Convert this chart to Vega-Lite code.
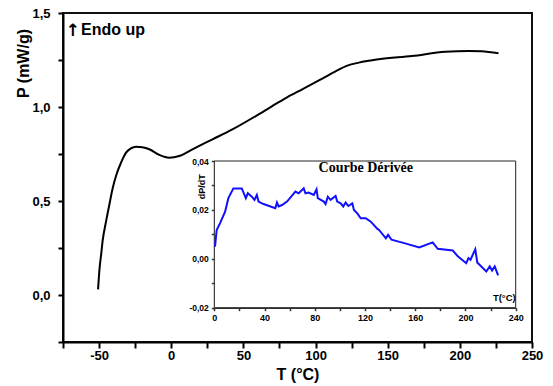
{
  "$schema": "https://vega.github.io/schema/vega-lite/v6.json",
  "width": 469,
  "height": 329,
  "autosize": {"type": "none"},
  "padding": {"left": 63, "top": 13, "right": 21, "bottom": 44},
  "background": "white",
  "config": {"view": {"stroke": "#111", "strokeWidth": 2}, "font": "Liberation Sans"},
  "datasets": {
    "dsc": [
      {"T": -50.7, "P": 0.03}, {"T": -49.8, "P": 0.13}, {"T": -48.5, "P": 0.22}, {"T": -47.5, "P": 0.29},
      {"T": -45.2, "P": 0.39}, {"T": -42.9, "P": 0.48}, {"T": -40.5, "P": 0.57}, {"T": -38, "P": 0.64},
      {"T": -35, "P": 0.70}, {"T": -31.3, "P": 0.757}, {"T": -28, "P": 0.78}, {"T": -24.4, "P": 0.789},
      {"T": -20, "P": 0.786}, {"T": -15.2, "P": 0.775}, {"T": -8.3, "P": 0.745}, {"T": -1.4, "P": 0.73},
      {"T": 5.5, "P": 0.739}, {"T": 14.7, "P": 0.775}, {"T": 28.6, "P": 0.828}, {"T": 42.4, "P": 0.881},
      {"T": 58.6, "P": 0.952}, {"T": 70, "P": 1.005}, {"T": 80, "P": 1.05}, {"T": 90.8, "P": 1.094},
      {"T": 102, "P": 1.14}, {"T": 113.9, "P": 1.19}, {"T": 122, "P": 1.22}, {"T": 130, "P": 1.236},
      {"T": 143.8, "P": 1.254}, {"T": 166.8, "P": 1.271}, {"T": 190, "P": 1.294}, {"T": 206, "P": 1.298},
      {"T": 215, "P": 1.296}, {"T": 226.8, "P": 1.286}
    ],
    "deriv": [
      {"T": 0.56, "D": 0.005}, {"T": 1.9, "D": 0.0118}, {"T": 4.6, "D": 0.0146}, {"T": 8.6, "D": 0.0193},
      {"T": 11.2, "D": 0.0248}, {"T": 15.2, "D": 0.0288}, {"T": 21.9, "D": 0.0288}, {"T": 25.1, "D": 0.0248},
      {"T": 26.7, "D": 0.0268}, {"T": 29.9, "D": 0.0254}, {"T": 32.0, "D": 0.0241}, {"T": 33.9, "D": 0.0261},
      {"T": 35.2, "D": 0.0234}, {"T": 39.2, "D": 0.0224}, {"T": 48.6, "D": 0.0207}, {"T": 49.9, "D": 0.023},
      {"T": 51.2, "D": 0.0214}, {"T": 53.9, "D": 0.022}, {"T": 57.9, "D": 0.0234}, {"T": 64.6, "D": 0.0275},
      {"T": 67.2, "D": 0.0268}, {"T": 71.2, "D": 0.0288}, {"T": 72.6, "D": 0.0268}, {"T": 75.2, "D": 0.0271},
      {"T": 79.2, "D": 0.0261}, {"T": 81.4, "D": 0.0284}, {"T": 82.4, "D": 0.0248}, {"T": 87.2, "D": 0.0234},
      {"T": 88.6, "D": 0.0224}, {"T": 90.4, "D": 0.0254}, {"T": 92.6, "D": 0.0241}, {"T": 96.6, "D": 0.0257},
      {"T": 97.9, "D": 0.0234}, {"T": 100.6, "D": 0.0227}, {"T": 102.7, "D": 0.0214}, {"T": 104.6, "D": 0.023},
      {"T": 106.7, "D": 0.0216}, {"T": 109.9, "D": 0.0227}, {"T": 111.2, "D": 0.02}, {"T": 113.9, "D": 0.0186},
      {"T": 116.6, "D": 0.0166}, {"T": 120.6, "D": 0.0166}, {"T": 124.6, "D": 0.0152}, {"T": 129.9, "D": 0.0122},
      {"T": 131.2, "D": 0.0118}, {"T": 136.6, "D": 0.0084}, {"T": 138.4, "D": 0.0098}, {"T": 141.1, "D": 0.0078},
      {"T": 151.2, "D": 0.0064}, {"T": 163.2, "D": 0.0046}, {"T": 173.9, "D": 0.0067}, {"T": 177.9, "D": 0.0041},
      {"T": 189.9, "D": 0.0034}, {"T": 193.9, "D": 0.001}, {"T": 200.6, "D": -0.0018}, {"T": 202.4, "D": 0.0003},
      {"T": 204.0, "D": -0.0004}, {"T": 207.8, "D": 0.0039}, {"T": 209.4, "D": -0.0015}, {"T": 216.6, "D": -0.0052},
      {"T": 219.3, "D": -0.0031}, {"T": 221.2, "D": -0.0048}, {"T": 223.3, "D": -0.0031}, {"T": 226.0, "D": -0.0068}
    ]
  },
  "layer": [
    {
      "data": {"name": "dsc"},
      "mark": {"type": "line", "color": "black", "strokeWidth": 2, "interpolate": "monotone"},
      "encoding": {
        "x": {
          "field": "T", "type": "quantitative",
          "scale": {"domain": [-75, 250], "nice": false, "zero": false},
          "axis": {
            "orient": "bottom", "title": "T (°C)", "values": [-75, -50, -25, 0, 25, 50, 75, 100, 125, 150, 175, 200, 225, 250],
            "labelExpr": "datum.value % 50 == 0 ? replace(format(datum.value, 'd'), '−', '-') : ''",
            "labelOverlap": false, "labelFlush": false,
            "grid": false, "domainColor": "black", "domainWidth": 2, "tickColor": "black", "tickWidth": 2, "tickSize": 6,
            "labelFont": "Liberation Sans", "labelFontSize": 13, "labelFontWeight": "bold", "labelColor": "black", "labelPadding": 1,
            "titleFont": "Liberation Sans", "titleFontSize": 16, "titleFontWeight": "bold", "titleColor": "black", "titlePadding": 4
          }
        },
        "y": {
          "field": "P", "type": "quantitative",
          "scale": {"domain": [-0.25, 1.5], "nice": false, "zero": false},
          "axis": {
            "orient": "left", "title": "P (mW/g)", "values": [-0.25, 0, 0.25, 0.5, 0.75, 1, 1.25, 1.5],
            "labelExpr": "abs(datum.value * 2 - round(datum.value * 2)) < 0.001 ? replace(format(datum.value, '.1f'), '.', ',') : ''",
            "labelOverlap": false, "labelFlush": false,
            "grid": false, "domainColor": "black", "domainWidth": 2, "tickColor": "black", "tickWidth": 2, "tickSize": 5,
            "labelFont": "Liberation Sans", "labelFontSize": 13, "labelFontWeight": "bold", "labelColor": "black", "labelPadding": 8,
            "titleFont": "Liberation Sans", "titleFontSize": 16, "titleFontWeight": "bold", "titleColor": "black",
            "titleX": -40, "titleY": 50, "titleAlign": "center", "titleBaseline": "middle", "titleAngle": 270
          }
        }
      }
    },
    {
      "data": {"values": [{"label": "↑"}]},
      "mark": {"type": "text", "align": "center", "baseline": "alphabetic", "font": "DejaVu Sans", "fontSize": 17, "fontWeight": "bold", "color": "black"},
      "encoding": {
        "x": {"datum": -68.2, "type": "quantitative", "scale": {"domain": [-75, 250], "nice": false, "zero": false}, "axis": null},
        "y": {"datum": 1.38, "type": "quantitative", "scale": {"domain": [-0.25, 1.5], "nice": false, "zero": false}, "axis": null},
        "text": {"field": "label"}
      }
    },
    {
      "data": {"values": [{"label": "Endo up"}]},
      "mark": {"type": "text", "align": "left", "baseline": "alphabetic", "font": "Liberation Sans", "fontSize": 16, "fontWeight": "bold", "color": "black"},
      "encoding": {
        "x": {"datum": -62.5, "type": "quantitative", "scale": {"domain": [-75, 250], "nice": false, "zero": false}, "axis": null},
        "y": {"datum": 1.385, "type": "quantitative", "scale": {"domain": [-0.25, 1.5], "nice": false, "zero": false}, "axis": null},
        "text": {"field": "label"}
      }
    },
    {
      "data": {"values": [{"x0": 0, "x1": 240, "y0": -0.02, "y1": 0.04}]},
      "mark": {"type": "rect", "fill": "white", "stroke": "#222", "strokeWidth": 1},
      "encoding": {
        "x": {"field": "x0", "type": "quantitative", "scale": {"domain": [0, 240], "range": [151.3, 452.7], "nice": false, "zero": false}, "axis": null},
        "x2": {"field": "x1"},
        "y": {"field": "y0", "type": "quantitative", "scale": {"domain": [-0.02, 0.04], "range": [294.7, 148], "nice": false, "zero": false}, "axis": null},
        "y2": {"field": "y1"}
      }
    },
    {
      "data": {"name": "deriv"},
      "mark": {"type": "line", "color": "#1010ff", "strokeWidth": 2},
      "encoding": {
        "x": {
          "field": "T", "type": "quantitative",
          "scale": {"domain": [0, 240], "range": [151.3, 452.7], "nice": false, "zero": false},
          "axis": {
            "orient": "bottom", "offset": -34.3, "title": null,
            "values": [0, 20, 40, 60, 80, 100, 120, 140, 160, 180, 200, 220, 240],
            "labelExpr": "datum.value % 40 == 0 ? format(datum.value, 'd') : ''",
            "labelOverlap": false, "labelFlush": false,
            "grid": false, "domainColor": "#333", "domainWidth": 1.5, "tickColor": "#333", "tickWidth": 1.5, "tickSize": 3,
            "labelFont": "Liberation Sans", "labelFontSize": 9, "labelFontWeight": "bold", "labelColor": "black", "labelPadding": 3
          }
        },
        "y": {
          "field": "D", "type": "quantitative",
          "scale": {"domain": [-0.02, 0.04], "range": [294.7, 148], "nice": false, "zero": false},
          "axis": {
            "orient": "left", "offset": -151.3, "title": null,
            "values": [-0.02, -0.01, 0, 0.01, 0.02, 0.03, 0.04],
            "labelExpr": "abs(datum.value * 50 - round(datum.value * 50)) < 0.001 ? replace(replace(format(datum.value, '.2f'), '.', ','), '−', '-') : ''",
            "labelOverlap": false, "labelFlush": false,
            "grid": false, "domainColor": "#333", "domainWidth": 1.5, "tickColor": "#333", "tickWidth": 1.5, "tickSize": 3,
            "labelFont": "Liberation Sans", "labelFontSize": 8.5, "labelFontWeight": "bold", "labelColor": "black", "labelPadding": 3
          }
        }
      }
    },
    {
      "data": {"values": [{"label": "Courbe Dérivée"}]},
      "mark": {"type": "text", "align": "center", "baseline": "alphabetic", "font": "Liberation Serif", "fontSize": 14, "fontWeight": "bold", "color": "black"},
      "encoding": {
        "x": {"datum": 120.6, "type": "quantitative", "scale": {"domain": [0, 240], "range": [151.3, 452.7], "nice": false, "zero": false}, "axis": null},
        "y": {"datum": 0.0353, "type": "quantitative", "scale": {"domain": [-0.02, 0.04], "range": [294.7, 148], "nice": false, "zero": false}, "axis": null},
        "text": {"field": "label"}
      }
    },
    {
      "data": {"values": [{"label": "dP/dT"}]},
      "mark": {"type": "text", "align": "center", "baseline": "middle", "angle": 270, "font": "Liberation Sans", "fontSize": 9, "fontWeight": "bold", "color": "black"},
      "encoding": {
        "x": {"datum": -9.8, "type": "quantitative", "scale": {"domain": [0, 240], "range": [151.3, 452.7], "nice": false, "zero": false}, "axis": null},
        "y": {"datum": 0.0295, "type": "quantitative", "scale": {"domain": [-0.02, 0.04], "range": [294.7, 148], "nice": false, "zero": false}, "axis": null},
        "text": {"field": "label"}
      }
    },
    {
      "data": {"values": [{"label": "T(°C)"}]},
      "mark": {"type": "text", "align": "right", "baseline": "middle", "font": "Liberation Sans", "fontSize": 9.5, "fontWeight": "bold", "color": "black"},
      "encoding": {
        "x": {"datum": 240, "type": "quantitative", "scale": {"domain": [0, 240], "range": [151.3, 452.7], "nice": false, "zero": false}, "axis": null},
        "y": {"datum": -0.016, "type": "quantitative", "scale": {"domain": [-0.02, 0.04], "range": [294.7, 148], "nice": false, "zero": false}, "axis": null},
        "text": {"field": "label"}
      }
    }
  ],
  "resolve": {"scale": {"x": "independent", "y": "independent"}, "axis": {"x": "independent", "y": "independent"}}
}
